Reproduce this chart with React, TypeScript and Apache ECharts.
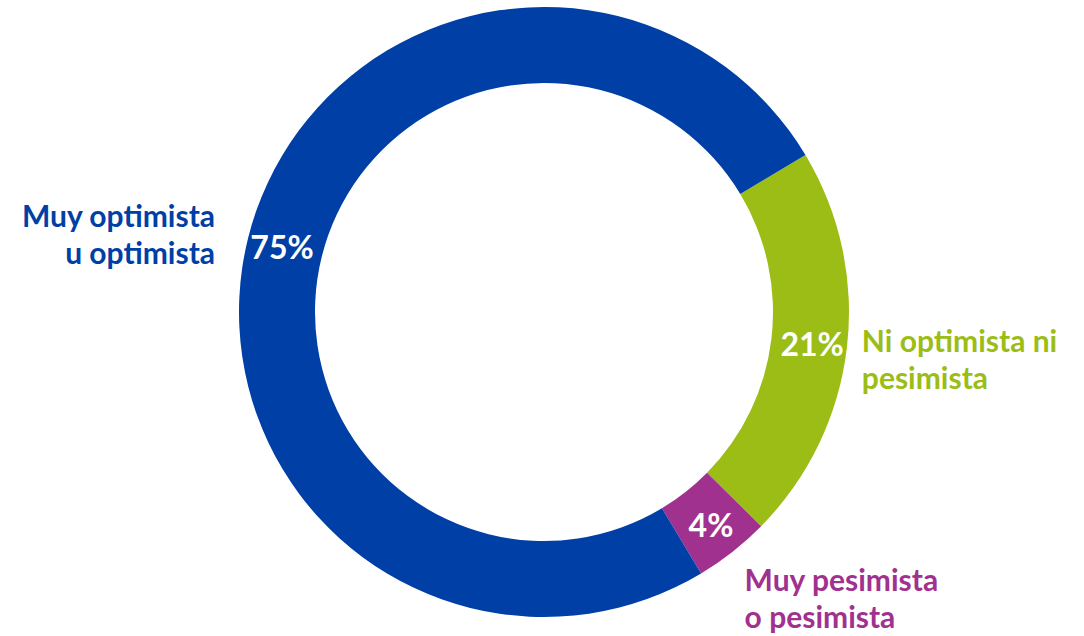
import React, { useEffect, useRef } from "react";
import * as echarts from "echarts";

const categories = ["Ni optimista ni\npesimista", "Muy pesimista\no pesimista", "Muy optimista\nu optimista"];
const values = [21, 4, 75];
const colors = ["#9BBD15", "#A1318F", "#003FA6"];
const labelAlign = ["left", "left", "right"];
const labelShift = [
  [10, 10],
  [7, 46],
  [-28, -5],
];

export default function App() {
  const ref = useRef<HTMLDivElement>(null);
  useEffect(() => {
    document.body.style.margin = "0";
    const chart = echarts.init(ref.current!, null, { renderer: "svg" });
    const font = "Lato, 'Open Sans', sans-serif";
    const data = categories.map((name, i) => ({
      name,
      value: values[i],
      itemStyle: { color: colors[i] },
    }));
    chart.setOption({
      animation: false,
      backgroundColor: "#ffffff",
      series: [
        {
          type: "pie",
          center: [544, 312],
          radius: [229, 305],
          startAngle: 31,
          clockwise: true,
          avoidLabelOverlap: false,
          silent: true,
          data,
          label: {
            show: true,
            position: "inside",
            formatter: (p: any) => p.value + "%",
            color: "#ffffff",
            fontFamily: font,
            fontWeight: "bold",
            fontSize: 32,
          },
          labelLine: { show: false },
        },
        {
          type: "pie",
          center: [544, 312],
          radius: [229, 305],
          startAngle: 31,
          clockwise: true,
          avoidLabelOverlap: false,
          silent: true,
          z: 1,
          data: data.map((d, i) => ({
            ...d,
            itemStyle: { color: "rgba(0,0,0,0)" },
            label: { color: colors[i], align: labelAlign[i] },
          })),
          label: {
            show: true,
            position: "outside",
            formatter: (p: any) => p.name,
            fontFamily: font,
            fontWeight: "bold",
            fontSize: 30,
            lineHeight: 37,
          },
          labelLine: { show: false, length: 0, length2: 0 },
          labelLayout: (p: any) => ({
            dx: labelShift[p.dataIndex][0],
            dy: labelShift[p.dataIndex][1],
          }),
        },
      ],
    });
    return () => chart.dispose();
  }, []);
  return <div ref={ref} style={{ width: 1084, height: 636 }} />;
}
